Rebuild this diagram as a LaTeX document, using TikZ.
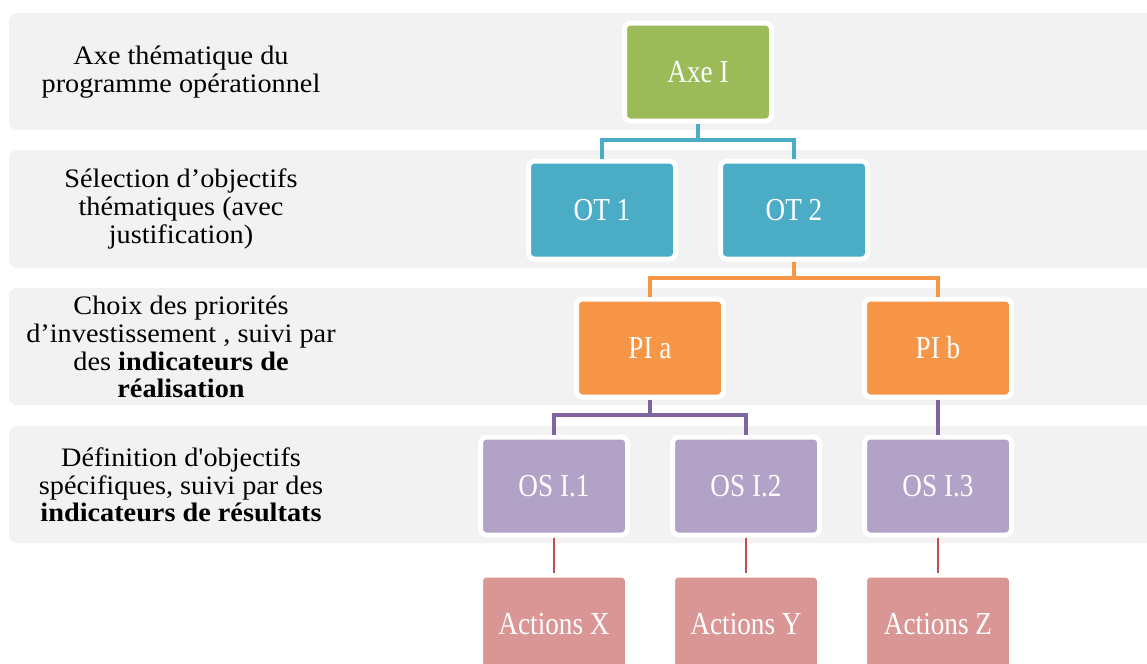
\documentclass[tikz,border=0pt]{standalone}
\usepackage{fontspec}
\setmainfont{Liberation Serif}
\newfontfamily\rowfont{Liberation Serif}[FakeStretch=1.06, Ligatures=TeXOff]
\newfontfamily\boxfont{Liberation Serif}[FakeStretch=0.85]
\definecolor{BandGray}{HTML}{F2F2F2}
\definecolor{AxeGreen}{HTML}{9BBB59}
\definecolor{OTTeal}{HTML}{4BACC6}
\definecolor{PIOrange}{HTML}{F79646}
\definecolor{OSLilac}{HTML}{B2A2C7}
\definecolor{OSPurple}{HTML}{8064A2}
\definecolor{ActRose}{HTML}{DA9694}
\definecolor{ActRed}{HTML}{C0504D}
\usetikzlibrary{positioning}

\begin{document}
\begin{tikzpicture}[x=0.75pt, y=-0.75pt,
  band/.style={fill=BandGray, rounded corners=6pt},
  rowlabel/.style={font=\rowfont\fontsize{20}{20.8}\selectfont,
                   align=center, inner sep=0pt},
  unit/.style={draw=white, line width=3.75pt, rounded corners=4.5pt,
               minimum width=110.25pt, minimum height=73.5pt,
               inner sep=0pt, text=white,
               font=\boxfont\fontsize{24}{26}\selectfont},
  link/.style={line width=3pt}]
  \clip (0,0) rectangle (1147,664);

  % gray bands with their labels
  \fill[band] (9,13) rectangle (1170,130);
  \fill[band] (9,150) rectangle (1170,268);
  \fill[band] (9,288) rectangle (1170,405);
  \fill[band] (9,426) rectangle (1170,543);
  \node[rowlabel] (lab1) at (181,72) {Axe thématique du\\programme opérationnel};
  \node[rowlabel] (lab2) at (181,209) {Sélection d’objectifs\\thématiques (avec\\justification)};
  \node[rowlabel] (lab3) at (181,347) {Choix des priorités\\d’investissement , suivi par\\des \textbf{indicateurs de}\\\textbf{réalisation}};
  \node[rowlabel] (lab4) at (181,485) {Définition d'objectifs\\spécifiques, suivi par des\\\textbf{indicateurs de résultats}};

  % tree
  \node[unit, fill=AxeGreen] (axe) at (698,72) {Axe I};
  \node[unit, fill=OTTeal] (ot1) at (602,210) {OT 1};
  \node[unit, fill=OTTeal] (ot2) at (794,210) {OT 2};
  \node[unit, fill=PIOrange] (pia) at (650,348) {PI a};
  \node[unit, fill=PIOrange] (pib) at (938,348) {PI b};
  \node[unit, fill=OSLilac] (os1) at (554,486) {OS I.1};
  \node[unit, fill=OSLilac] (os2) at (746,486) {OS I.2};
  \node[unit, fill=OSLilac] (os3) at (938,486) {OS I.3};
  \node[unit, fill=ActRose] (actx) at (554,624) {Actions X};
  \node[unit, fill=ActRose] (acty) at (746,624) {Actions Y};
  \node[unit, fill=ActRose] (actz) at (938,624) {Actions Z};

  \coordinate (busot) at (698,140);
  \coordinate (buspi) at (794,278);
  \coordinate (busos) at (650,415);
  \draw[link, OTTeal] (axe.south) -- (busot);
  \draw[link, OTTeal] (ot1.north) |- (busot) -| (ot2.north);
  \draw[link, PIOrange] (ot2.south) -- (buspi);
  \draw[link, PIOrange] (pia.north) |- (buspi) -| (pib.north);
  \draw[link, OSPurple] (pia.south) -- (busos);
  \draw[link, OSPurple] (os1.north) |- (busos) -| (os2.north);
  \draw[link, OSPurple] (pib) -- (os3);
  \draw[ActRed, line width=1pt] (os1) -- (actx);
  \draw[ActRed, line width=1pt] (os2) -- (acty);
  \draw[ActRed, line width=1pt] (os3) -- (actz);
\end{tikzpicture}
\end{document}
